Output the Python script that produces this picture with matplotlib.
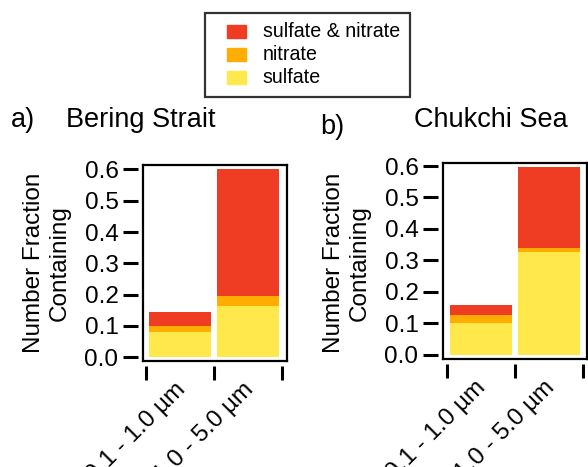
import matplotlib
matplotlib.use('Agg')
import matplotlib.pyplot as plt
import matplotlib.transforms as mtrans
from matplotlib.patches import Patch, Rectangle
from matplotlib.legend_handler import HandlerPatch

plt.rcParams['font.family'] = ['Liberation Sans', 'DejaVu Sans']

# size bins
sizes = ['0.1 - 1.0 µm', '1.0 - 5.0 µm']

# a) Bering Strait
bering_sulfate = [0.081, 0.164]
bering_nitrate = [0.019, 0.032]
bering_both = [0.045, 0.404]

# b) Chukchi Sea
chukchi_sulfate = [0.100, 0.327]
chukchi_nitrate = [0.027, 0.012]
chukchi_both = [0.031, 0.259]

c_both = '#EE3D23'
c_nitr = '#FFAD00'
c_sulf = '#FFE84B'

W, H = 588, 467
fig = plt.figure(figsize=(W / 100, H / 100), dpi=100)


def draw(rect, sulf, nitr, both, xlim, ylim):
    ax = fig.add_axes(rect)
    x = range(len(sizes))
    ax.bar(x, sulf, width=0.91, color=c_sulf, linewidth=0)
    ax.bar(x, nitr, width=0.91, bottom=sulf, color=c_nitr, linewidth=0)
    b3 = [s + n for s, n in zip(sulf, nitr)]
    ax.bar(x, both, width=0.91, bottom=b3, color=c_both, linewidth=0)
    ax.set_xlim(*xlim)
    ax.set_ylim(*ylim)

    # igor-style detached axes
    for s in ['left', 'bottom']:
        ax.spines[s].set_position(('outward', 3.5))
        ax.spines[s].set_visible(False)
    for s in ['top', 'right']:
        ax.spines[s].set_linewidth(1.6)
    ax.plot([0, 1], [0, 0], transform=ax.transAxes, color='k', lw=1.6, clip_on=False)
    ax.plot([0, 0], [0, 1], transform=ax.transAxes, color='k', lw=1.6, clip_on=False)

    ax.set_yticks([0, 0.1, 0.2, 0.3, 0.4, 0.5, 0.6])
    ax.set_yticklabels(['0.0', '0.1', '0.2', '0.3', '0.4', '0.5', '0.6'])
    ax.tick_params(axis='y', direction='out', length=11, width=2.2, labelsize=17.5, pad=3)

    ax.set_xticks(list(x))
    ax.set_xticklabels(sizes, rotation=45, ha='right', va='top', rotation_mode='anchor')
    ax.tick_params(axis='x', which='major', length=0, labelsize=17.5, pad=9)
    ax.set_xticks([-0.5, 0.5, 1.5], minor=True)
    ax.tick_params(axis='x', which='minor', direction='out', length=10, width=2.2)

    # nudge rotated labels so their upper end sits at the bar centre
    off = mtrans.ScaledTranslation(-6 / 100, 0, fig.dpi_scale_trans)
    for lab in ax.get_xticklabels():
        lab.set_transform(lab.get_transform() + off)
    return ax


ax1 = draw([142.7 / W, 1 - 360.7 / H, 144 / W, 195.7 / H],
           bering_sulfate, bering_nitrate, bering_both, (-0.55, 1.57), (-0.011, 0.614))
ax2 = draw([442.7 / W, 1 - 359 / H, 144 / W, 196.3 / H],
           chukchi_sulfate, chukchi_nitrate, chukchi_both, (-0.56, 1.55), (-0.0137, 0.6105))

fig.text(11 / W, 1 - 127 / H, 'a)', fontsize=19.5, va='baseline')
fig.text(66 / W, 1 - 127 / H, 'Bering Strait', fontsize=19.5, va='baseline')
fig.text(320 / W, 1 - 134 / H, 'b)', fontsize=19.5, va='baseline')
fig.text(414 / W, 1 - 127 / H, 'Chukchi Sea', fontsize=19.5, va='baseline')

for xc in (47, 347):
    fig.text(xc / W, 1 - 263 / H, 'Number Fraction\nContaining', rotation=90,
             ha='center', va='center', fontsize=17.5, linespacing=1.2, multialignment='center')


def legend_patch(legend, orig_handle, xdescent, ydescent, width, height, fontsize):
    return Rectangle((-xdescent + width * 0.38, -ydescent - height * 0.05),
                     width * 0.62, height * 0.95)


handles = [Patch(color=c_both, label='sulfate & nitrate'),
           Patch(color=c_nitr, label='nitrate'),
           Patch(color=c_sulf, label='sulfate')]
leg = fig.legend(handles=handles, loc='upper left', bbox_to_anchor=(205 / W, 1 - 12.7 / H),
                 fontsize=14.1, frameon=True, fancybox=False, borderpad=0.5,
                 handlelength=1.6, handleheight=0.7, handletextpad=0.85, labelspacing=0.2,
                 borderaxespad=0,
                 handler_map={Patch: HandlerPatch(patch_func=legend_patch)})
leg.get_frame().set_edgecolor('k')
leg.get_frame().set_linewidth(1.6)

fig.savefig('out.png', dpi=100)
